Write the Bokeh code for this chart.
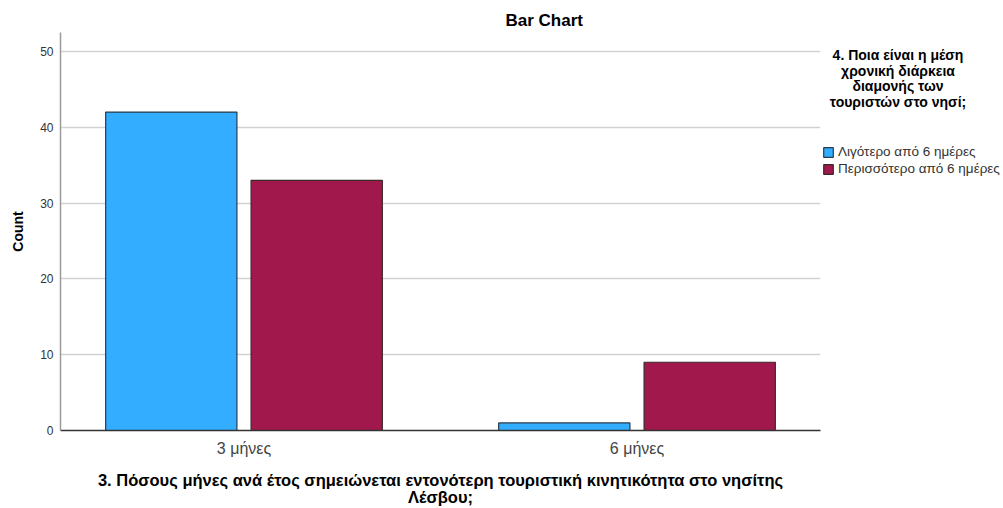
import math
from bokeh.plotting import figure
from bokeh.layouts import row
from bokeh.models import Range1d, Legend, LegendItem, Label, ColumnDataSource, FixedTicker, Title
from bokeh.transform import dodge
from bokeh.embed import file_html
from bokeh.resources import INLINE

# ---- data ----
categories = ["3 μήνες", "6 μήνες"]
less_than_6 = [42, 1]
more_than_6 = [33, 9]
series_names = ["Λιγότερο από 6 ημέρες", "Περισσότερο από 6 ημέρες"]
series_colors = ["#33adff", "#a0184c"]
y_ticks = [0, 10, 20, 30, 40, 50]
title_text = "Bar Chart"
y_title = "Count"
x_title = ("3. Πόσους μήνες ανά έτος σημειώνεται εντονότερη τουριστική κινητικότητα στο νησίτης\n"
           "Λέσβου;")
legend_title_lines = ["4. Ποια είναι η μέση", "χρονική διάρκεια", "διαμονής των", "τουριστών στο νησί;"]

# ---- layout (page pixels) ----
W, H = 1003, 508
F_L, F_R, F_T, F_B = 60, 820, 32, 431          # frame edges
MAIN_W = F_R + 1
SIDE_W = W - MAIN_W
PX_PER_CAT = 393.0
X_START = -(243.5 - F_L) / PX_PER_CAT
X_END = X_START + (F_R - F_L) / PX_PER_CAT
Y_END = (F_B - F_T) / 7.6

FONT = "Liberation Sans"
NAN = float("nan")

src = ColumnDataSource(dict(idx=list(range(len(categories))), cat=categories,
                            less=less_than_6, more=more_than_6))

p = figure(width=MAIN_W, height=H, output_backend="svg", toolbar_location=None,
           x_range=Range1d(X_START, X_END), y_range=Range1d(0, Y_END),
           min_border_left=F_L, min_border_right=MAIN_W - F_R,
           min_border_top=F_T, min_border_bottom=H - F_B)
p.outline_line_color = None
p.xgrid.grid_line_color = None
p.ygrid.grid_line_color = "#d2d2d2"
p.ygrid.grid_line_width = 1.5
p.ygrid.ticker = FixedTicker(ticks=y_ticks)

p.title = Title(text=title_text, align="left", offset=505 - F_L,
                text_font=FONT, text_font_size="17px", text_font_style="bold",
                text_color="#000000", standoff=5)

BAR_W = 0.334
OFF = 0.185
bar_style = dict(width=BAR_W, source=src, line_width=1.2)
r1 = p.vbar(x=dodge("idx", -OFF, range=p.x_range), top="less", fill_color=series_colors[0],
            line_color="#2a3a4a", **bar_style)
r2 = p.vbar(x=dodge("idx", OFF, range=p.x_range), top="more", fill_color=series_colors[1],
            line_color="#3a2a2a", **bar_style)

# y axis
p.yaxis.ticker = FixedTicker(ticks=y_ticks)
p.yaxis.axis_line_color = "#9a9a9a"
p.yaxis.axis_line_width = 1.5
p.yaxis.major_tick_line_color = None
p.yaxis.minor_tick_line_color = None
p.yaxis.major_tick_out = 0
p.yaxis.major_tick_in = 0
p.yaxis.major_label_text_font = FONT
p.yaxis.major_label_text_font_size = "12px"
p.yaxis.major_label_text_color = "#333333"
p.yaxis.major_label_standoff = 7
p.yaxis.axis_label = y_title
p.yaxis.axis_label_text_font = FONT
p.yaxis.axis_label_text_font_size = "14px"
p.yaxis.axis_label_text_font_style = "bold"
p.yaxis.axis_label_text_color = "#000000"
p.yaxis.axis_label_standoff = 11

# x axis
p.xaxis.ticker = FixedTicker(ticks=list(range(len(categories))))
p.xaxis.major_label_overrides = {i: c for i, c in enumerate(categories)}
p.xaxis.axis_line_color = "#333333"
p.xaxis.axis_line_width = 1.5
p.xaxis.major_tick_line_color = None
p.xaxis.minor_tick_line_color = None
p.xaxis.major_tick_out = 0
p.xaxis.major_tick_in = 0
p.xaxis.major_label_text_font = FONT
p.xaxis.major_label_text_font_size = "16px"
p.xaxis.major_label_text_color = "#444444"
p.xaxis.major_label_standoff = 9
p.xaxis.axis_label = x_title
p.xaxis.axis_label_text_font = FONT
p.xaxis.axis_label_text_font_size = "16.5px"
p.xaxis.axis_label_text_font_style = "bold"
p.xaxis.axis_label_text_color = "#000000"
p.xaxis.axis_label_text_line_height = 0.97
p.xaxis.axis_label_standoff = 11

# ---- side panel holding the legend (frame aligned with main frame) ----
s = figure(width=SIDE_W, height=H, output_backend="svg", toolbar_location=None,
           x_range=Range1d(0, SIDE_W), y_range=Range1d(F_B, F_T),
           x_axis_type=None, y_axis_type=None,
           min_border_left=0, min_border_right=0, min_border_top=F_T, min_border_bottom=H - F_B)
s.outline_line_color = None
s.xgrid.grid_line_color = None
s.ygrid.grid_line_color = None
# key-only renderers (no visible data) whose styles feed the legend swatches
k1 = s.vbar(x=[NAN], top=[NAN], width=1, fill_color=series_colors[0], line_color="#2a3a4a", line_width=1.2)
k2 = s.vbar(x=[NAN], top=[NAN], width=1, fill_color=series_colors[1], line_color="#3a2a2a", line_width=1.2)

for i, line in enumerate(legend_title_lines):
    s.add_layout(Label(x=897.5 - MAIN_W, y=55 + 15.5 * i, text=line, text_font=FONT,
                       text_font_size="14px", text_font_style="bold", text_align="center",
                       text_baseline="alphabetic", text_color="#000000"))

legend = Legend(items=[LegendItem(label=series_names[0], renderers=[k1]),
                       LegendItem(label=series_names[1], renderers=[k2])],
                location=(822 - MAIN_W, F_B - 177), orientation="vertical",
                glyph_width=12, glyph_height=12, label_height=12, label_standoff=4,
                spacing=2, padding=0, margin=0, border_line_color=None,
                background_fill_alpha=0, label_text_font=FONT, label_text_font_size="13.5px",
                label_text_color="#333333")
s.add_layout(legend)

layout = row(p, s, spacing=0)
open("out.html", "w").write(file_html(layout, INLINE))
